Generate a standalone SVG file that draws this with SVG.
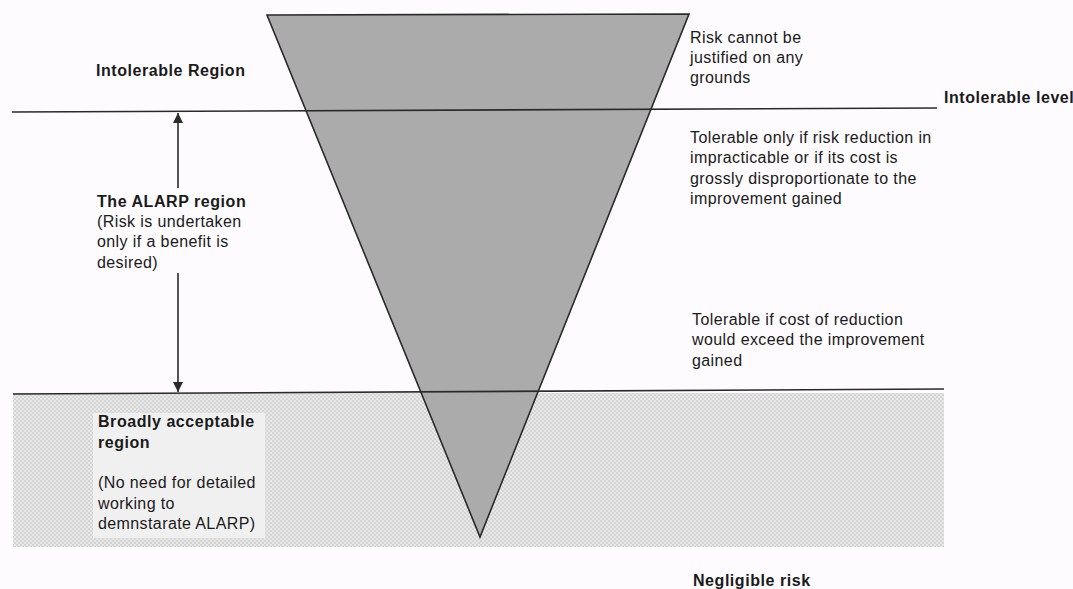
<svg xmlns="http://www.w3.org/2000/svg" width="1073" height="589" viewBox="0 0 1073 589">
<style>
text{font-family:"Liberation Sans",Arial,sans-serif;font-size:16px;fill:#1a1a1a;letter-spacing:0.4px}
.b{font-weight:bold;letter-spacing:0.55px}
.ln{stroke:#2a2a2a;stroke-width:1.6;fill:none}
</style>
<defs>
<pattern id="dots" width="4" height="4" patternUnits="userSpaceOnUse">
<rect width="4" height="4" fill="#e8e8e8"/>
<rect width="2" height="2" fill="#d4d4d4"/>
<rect x="2" y="2" width="2" height="2" fill="#d4d4d4"/>
</pattern>
<marker id="ah" viewBox="0 0 10 10" refX="10" refY="5" markerWidth="11" markerHeight="10" orient="auto" markerUnits="userSpaceOnUse">
<path d="M0,0 L10,5 L0,10 z" fill="#2a2a2a"/>
</marker>
</defs>
<rect width="1073" height="589" fill="#fdfbfd"/>
<g id="broad-region">
<rect x="13" y="393" width="931" height="154" fill="url(#dots)"/>
<rect x="93" y="413" width="172" height="125" fill="#f1f0f1"/>
</g>
<g id="triangle">
<polygon points="267,15 689,14 480,537" fill="#ababab" stroke="#2a2a2a" stroke-width="1.6"/>
</g>
<g id="connectors">
<line class="ln" x1="12" y1="112" x2="937" y2="108"/>
<line class="ln" x1="13" y1="394" x2="944" y2="389"/>
<line class="ln" x1="178" y1="188" x2="178" y2="113" marker-end="url(#ah)"/>
<line class="ln" x1="178" y1="273" x2="178" y2="392" marker-end="url(#ah)"/>
</g>
<g id="intolerable-region">
<text class="b" x="96" y="76">Intolerable Region</text>
</g>
<g id="alarp-region">
<text class="b" x="97" y="207">The ALARP region</text>
<text x="97" y="227">(Risk is undertaken</text>
<text x="97" y="247">only if a benefit is</text>
<text x="97" y="268">desired)</text>
</g>
<g id="risk-cannot">
<text x="690" y="43">Risk cannot be</text>
<text x="690" y="63">justified on any</text>
<text x="690" y="83">grounds</text>
</g>
<g id="intolerable-level">
<text class="b" x="944" y="103">Intolerable level</text>
</g>
<g id="tolerable-only">
<text x="690" y="143">Tolerable only if risk reduction in</text>
<text x="690" y="163">impracticable or if its cost is</text>
<text x="690" y="184">grossly disproportionate to the</text>
<text x="690" y="204">improvement gained</text>
</g>
<g id="tolerable-if">
<text x="692" y="325">Tolerable if cost of reduction</text>
<text x="692" y="345">would exceed the improvement</text>
<text x="692" y="366">gained</text>
</g>
<g id="broadly-acceptable">
<text class="b" x="98" y="427">Broadly acceptable</text>
<text class="b" x="98" y="448">region</text>
<text x="98" y="488">(No need for detailed</text>
<text x="98" y="509">working to</text>
<text x="98" y="529">demnstarate ALARP)</text>
</g>
<g id="negligible">
<text class="b" x="693" y="586">Negligible risk</text>
</g>
</svg>
